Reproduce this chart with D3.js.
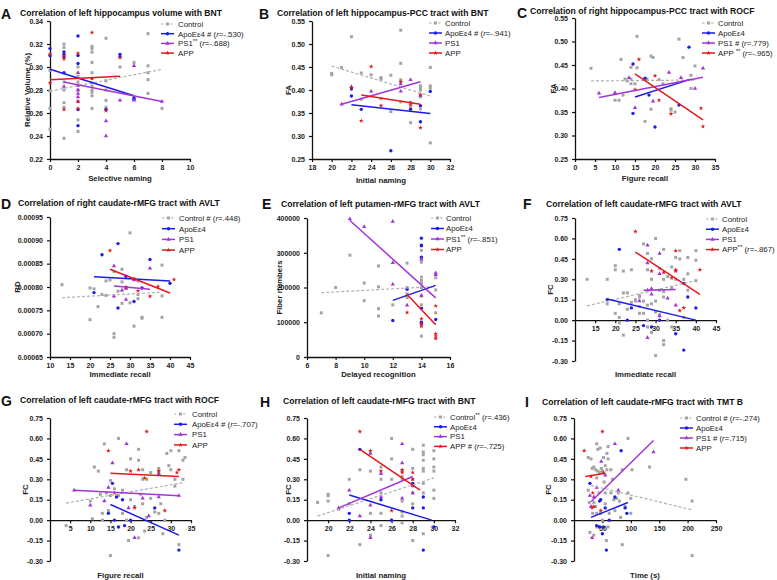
<!DOCTYPE html>
<html><head><meta charset="utf-8">
<script src="https://cdn.jsdelivr.net/npm/d3@7"></script>
<style>body{margin:0;background:#fff} svg{display:block} text{font-family:"Liberation Sans",Arial,sans-serif}</style>
</head><body><svg id="c" width="777" height="580"></svg>
<script>
// ---------------- DATA ----------------
const groups = ["Control", "ApoEε4", "PS1", "APP"];

// Panel A
const A_title = "Correlation of left hippocampus volume with BNT";
const A_xlabel = "Selective naming", A_ylabel = "Relative Volume (%)";
const A_xticks = [0,2,4,6,8,10], A_yticks = [0.22,0.24,0.26,0.28,0.30,0.32,0.34];
const A_legend = ["Control","ApoEε4 # (r=-.530)","PS1** (r=-.688)","APP"];
const A_ctrl = [[0,0.297],[0,0.279],[0,0.264],[0,0.246],[1,0.320],[1,0.317],[1,0.287],[1,0.280],[1,0.269],[1,0.265],[1,0.238],[2,0.300],[2,0.292],[2,0.287],[2,0.280],[2,0.254],[2,0.244],[3,0.318],[3,0.316],[3,0.313],[3,0.304],[3,0.295],[3,0.290],[3,0.286],[3,0.283],[3,0.280],[3,0.278],[3,0.275],[3,0.264],[4,0.325],[4,0.288],[4,0.280],[4,0.271],[4,0.265],[5,0.300],[6,0.304],[7,0.329],[7,0.301],[7,0.295],[7,0.289],[7,0.277],[8,0.264]];
const A_apoe = [[0,0.316],[0,0.310],[1,0.313],[1,0.311],[1,0.309],[1,0.295],[2,0.327],[2,0.310],[2,0.303],[2,0.263],[2,0.249],[4,0.263],[5,0.311],[5,0.309],[6,0.273],[6,0.272]];
const A_ps1 = [[1,0.283],[2,0.295],[2,0.284],[2,0.280],[2,0.277],[2,0.274],[2,0.270],[4,0.253],[4,0.240],[5,0.271],[6,0.301],[6,0.271],[8,0.270]];
const A_app = [[0,0.311],[0,0.286],[1,0.310],[1,0.307],[1,0.263],[2,0.312],[2,0.270],[2,0.264],[3,0.330],[3,0.290],[4,0.262],[5,0.308]];
const A_fits = [[0,0.279,8,0.298],[0,0.298,6,0.275],[1,0.287,8,0.270],[0,0.289,5,0.292]];

// Panel B
const B_title = "Correlation of left hippocampus-PCC tract with BNT";
const B_xlabel = "Initial naming", B_ylabel = "FA";
const B_xticks = [18,20,22,24,26,28,30,32], B_yticks = [0.25,0.30,0.35,0.40,0.45,0.50,0.55];
const B_legend = ["Control","ApoEε4 # (r=-.941)","PS1","APP"];
const B_ctrl = [[20,0.436],[20,0.433],[21,0.449],[22,0.516],[23,0.437],[23,0.380],[24,0.433],[25,0.427],[25,0.424],[25,0.381],[26,0.432],[26,0.353],[27,0.530],[27,0.458],[27,0.422],[27,0.420],[27,0.374],[28,0.329],[28,0.360],[28,0.373],[29,0.409],[29,0.405],[29,0.400],[29,0.385],[29,0.359],[30,0.449],[30,0.409],[30,0.404],[30,0.285]];
const B_apoe = [[22,0.402],[22,0.387],[23,0.358],[26,0.268],[28,0.358],[29,0.366],[29,0.331],[30,0.397]];
const B_ps1 = [[21,0.369],[22,0.407],[24,0.397],[27,0.413],[27,0.397],[28,0.422],[29,0.388]];
const B_app = [[22,0.405],[23,0.333],[24,0.451],[25,0.366],[27,0.418],[28,0.372],[28,0.367],[29,0.390],[29,0.318]];
const B_fits = [[20,0.452,30,0.387],[22,0.368,30,0.349],[21,0.369,29,0.418],[23,0.389,29,0.369]];

// Panel C
const C_title = "Correlation of right hippocampus-PCC tract with ROCF";
const C_xlabel = "Figure recall", C_ylabel = "FA";
const C_xticks = [0,5,10,15,20,25,30,35], C_yticks = [0.25,0.30,0.35,0.40,0.45,0.50,0.55];
const C_legend = ["Control","ApoEε4","PS1 # (r=.779)","APP ** (r=-.965)"];
const C_ctrl = [[4,0.443],[10,0.375],[11,0.375],[11.5,0.462],[12,0.386],[12.5,0.420],[13,0.416],[14,0.445],[14,0.410],[14,0.420],[15,0.410],[15.5,0.511],[15.5,0.444],[17.5,0.330],[18,0.420],[19,0.356],[19,0.469],[19.5,0.466],[21,0.419],[22,0.410],[24,0.357],[24,0.354],[25,0.350],[26,0.505],[27,0.466],[29,0.428],[29,0.400],[30,0.448]];
const C_apoe = [[14.5,0.452],[14.5,0.347],[17.5,0.422],[18.5,0.386],[20,0.318],[26,0.365],[28.5,0.488]];
const C_ps1 = [[6,0.390],[10,0.391],[13.5,0.423],[15,0.359],[19.5,0.373],[23.5,0.434],[26.5,0.423],[30,0.400],[32,0.443]];
const C_app = [[15,0.398],[16,0.462],[20,0.427],[21,0.375],[24,0.346],[31.5,0.358],[32,0.319]];
const C_fits = [[4,0.416,30,0.418],[15,0.382,29,0.420],[6,0.381,32,0.424],[15,0.431,32,0.333]];

// Panel D
const D_title = "Correlation of right caudate-rMFG tract with AVLT";
const D_xlabel = "Immediate recall", D_ylabel = "RD";
const D_xticks = [10,15,20,25,30,35,40,45], D_yticks = [0.00065,0.00070,0.00075,0.00080,0.00085,0.00090,0.00095];
const D_legend = ["Control # (r=.448)","ApoEε4","PS1","APP"];
const D_ctrl = [[13,0.000805],[20,0.000798],[20,0.000730],[21,0.000796],[22,0.000758],[23,0.000784],[24,0.000813],[24,0.000782],[25,0.000815],[26,0.000833],[26,0.000700],[26,0.000692],[27,0.000791],[28,0.000838],[28,0.000811],[28,0.000765],[29,0.000798],[30,0.000916],[30,0.000766],[31,0.000716],[32,0.000813],[32,0.000784],[32,0.000775],[33,0.000735],[33,0.000733],[38,0.000847],[38,0.000781],[38,0.000735]];
const D_apoe = [[21,0.000788],[23,0.000869],[27,0.000893],[27,0.000755],[29,0.000823],[31,0.000769],[33,0.000798],[35,0.000859],[40,0.000808]];
const D_ps1 = [[26,0.000845],[26,0.000780],[28,0.000793],[29,0.000773],[29,0.000797],[31,0.000815],[35,0.000840]];
const D_app = [[25,0.000878],[29,0.000800],[31,0.000818],[32,0.000792],[35,0.000780],[37,0.000801],[41,0.000816]];
const D_fits = [[13,0.000777,38,0.000789],[21,0.000822,40,0.000813],[26,0.000802,35,0.000795],[25,0.000838,40,0.000787]];

// Panel E
const E_title = "Correlation of left putamen-rMFG tract with AVLT";
const E_xlabel = "Delayed recognition", E_ylabel = "Fiber numbers";
const E_xticks = [6,8,10,12,14,16], E_yticks = [0,100000,200000,300000,400000];
const E_legend = ["Control","ApoEε4","PS1** (r=-.851)","APP"];
const E_ctrl = [[7,127000],[8,200000],[9,293000],[10,213000],[10,162000],[11,262000],[11,202000],[11,139000],[11,118000],[12,150000],[13,270000],[13,200000],[13,182000],[13,175000],[13,171000],[14,307000],[14,278000],[14,273000],[14,230000],[14,220000],[14,213000],[14,200000],[14,175000],[14,150000],[14,60000],[15,228000],[15,193000],[15,127000]];
const E_apoe = [[12,105000],[13,195000],[14,342000],[14,322000],[14,320000],[14,287000],[14,140000],[14,100000],[14,95000],[15,108000]];
const E_ps1 = [[9,397000],[10,375000],[12,390000],[12,271000],[12,209000],[13,149000],[14,282000],[14,177000],[15,242000],[15,237000]];
const E_app = [[13,128000],[14,110000],[14,96000],[14,88000],[15,147000],[15,67000],[15,60000],[15,53000]];
const E_fits = [[7,185000,15,203000],[12,163000,15,206000],[9,393000,15,170000],[13,180000,15,93000]];

// Panel F
const F_title = "Correlation of left caudate-rMFG tract with AVLT";
const F_xlabel = "Immediate recall", F_ylabel = "FC";
const F_xticks = [15,20,25,30,35,40,45], F_yticks = [-0.30,-0.15,0,0.15,0.30,0.45,0.60,0.75];
const F_legend = ["Control","ApoEε4","PS1","APP** (r=-.867)"];
const F_ctrl = [[13,0.30],[18,0.30],[18,0.12],[20,0.40],[20,0.37],[20,0.05],[21,0.12],[21,0.02],[21,-0.02],[22,0.36],[22,0.20],[22,-0.11],[23,0.20],[23,0.08],[24,0.37],[24,0.13],[25,0.15],[25,0.14],[26,0.18],[26,0.17],[26,0.10],[26,0.05],[27,0.56],[27,0.14],[27,0.05],[28,0.49],[28,0.37],[28,0.11],[28,0.00],[28,-0.05],[29,0.45],[29,0.30],[29,0.12],[29,-0.09],[30,0.60],[30,0.14],[30,0.06],[30,-0.26],[31,0.38],[31,0.22],[31,0.04],[32,0.52],[32,0.30],[32,0.21],[32,0.17],[32,-0.15],[32,-0.18],[33,0.32],[33,0.00],[34,0.39],[34,0.24],[34,-0.05],[35,0.46],[35,0.30],[36,0.51],[36,0.45],[37,0.30],[37,0.02],[38,0.46],[38,0.34],[38,0.22],[40,0.51],[40,0.44],[40,0.29]];
const F_apoe = [[18,0.15],[21,0.52],[23,0.00],[24,0.09],[27,-0.04],[29,-0.05],[31,0.00],[35,-0.10],[37,0.27],[37,-0.22],[38,0.17],[40,0.09]];
const F_ps1 = [[26,0.14],[28,0.55],[28,0.42],[28,0.22],[28,-0.13],[29,0.23],[29,0.19],[31,0.49],[31,0.34],[31,0.03],[33,0.16],[35,0.11]];
const F_app = [[25,0.65],[29,0.36],[32,0.35],[34,0.31],[35,0.51],[35,0.37],[35,0.36],[36,0.07],[37,0.09],[41,0.37]];
const F_fits = [[13,0.105,40,0.29],[18,0.155,40,0.00],[27,0.22,35,0.225],[25,0.50,41,0.19]];

// Panel G
const G_title = "Correlation of left caudate-rMFG tract with ROCF";
const G_xlabel = "Figure recall", G_ylabel = "FC";
const G_xticks = [5,10,15,20,25,30,35], G_yticks = [-0.30,-0.15,0,0.15,0.30,0.45,0.60,0.75];
const G_legend = ["Control","ApoEε4 # (r=-.707)","PS1","APP"];
const G_ctrl = [[4,-0.04],[10,0.14],[10.5,0.01],[11,0.39],[12,0.36],[12.5,0.19],[13,0.05],[13.5,0.56],[13,0.00],[14,0.20],[14.5,0.07],[15,0.29],[15,0.18],[15,-0.26],[16,0.23],[17,0.60],[17,0.18],[18,0.22],[18,0.05],[19,0.37],[19,0.00],[19.5,-0.15],[20,0.45],[20,0.15],[21,0.10],[22,0.52],[22,0.44],[22,-0.13],[22.5,0.19],[23,0.37],[23,0.30],[23,0.12],[23.5,-0.08],[24,0.30],[24,0.02],[25,0.16],[25,0.35],[26,0.06],[27,0.38],[27,0.35],[27,0.05],[27.5,0.12],[28,-0.10],[28.5,0.00],[29,0.49],[29.5,0.40],[30,0.51],[30,0.37],[31,0.25],[31,0.30],[32,0.51],[32,-0.18],[33,0.44],[33.5,0.46],[33,0.30]];
const G_apoe = [[14.5,0.05],[15.5,0.27],[16.5,0.17],[16,0.00],[17,-0.05],[18,0.15],[18.5,-0.04],[20,0.00],[26,0.09],[32,-0.22]];
const G_ps1 = [[6,0.22],[10,0.11],[13.5,0.14],[14.5,0.24],[15.5,0.42],[19,0.56],[19.5,0.09],[21,-0.13],[23,0.16],[24.5,0.03],[27,0.34],[27,0.17],[32,0.18]];
const G_app = [[14.5,0.51],[16,0.20],[20,0.36],[21,0.09],[22,0.37],[23.5,0.31],[24,0.65],[27,0.36],[28.5,0.07],[31.5,0.35],[32,0.37]];
const G_fits = [[4,0.125,33,0.275],[15,0.115,32,-0.11],[6,0.22,32,0.18],[15,0.345,32,0.32]];

// Panel H
const H_title = "Correlation of left caudate-rMFG tract with BNT";
const H_xlabel = "Initial naming", H_ylabel = "FC";
const H_xticks = [20,22,24,26,28,30,32], H_yticks = [-0.30,-0.15,0,0.15,0.30,0.45,0.60,0.75];
const H_legend = ["Control** (r=.436)","ApoEε4","PS1","APP # (r=-.725)"];
const H_ctrl = [[19,0.13],[20,0.19],[20,0.18],[20,0.14],[20,-0.26],[21,0.08],[22,0.30],[22,0.12],[23,0.37],[23,-0.18],[24,0.36],[24,0.05],[24,-0.11],[25,0.39],[25,0.30],[25,0.20],[25,0.05],[25,-0.04],[26,0.60],[26,0.45],[26,0.30],[26,0.00],[27,0.36],[27,0.32],[27,0.30],[27,0.14],[27,0.06],[27,0.03],[27,-0.02],[28,0.52],[28,0.38],[28,0.30],[28,0.26],[28,0.20],[28,0.12],[28,-0.15],[29,0.55],[29,0.50],[29,0.48],[29,0.44],[29,0.38],[29,0.36],[29,0.27],[29,0.20],[29,-0.10],[30,0.51],[30,0.45],[30,0.39],[30,0.36],[30,0.22],[30,0.16],[30,-0.05]];
const H_apoe = [[22,0.05],[22,0.00],[23,0.52],[25,0.15],[26,0.00],[28,0.27],[28,0.09],[29,0.17],[29,0.09],[29,-0.22],[30,-0.05]];
const H_ps1 = [[21,0.09],[22,0.22],[23,0.03],[24,0.49],[24,0.11],[24,-0.13],[25,0.34],[25,0.17],[27,0.56],[27,0.42],[27,0.16],[28,0.25],[28,0.20]];
const H_app = [[23,0.65],[24,0.51],[25,0.36],[26,0.07],[27,0.37],[27,0.35],[28,0.35],[28,0.30]];
const H_fits = [[19,0.03,30,0.31],[22,0.185,29.8,0.0],[21,0.09,28,0.32],[23,0.52,28.7,0.22]];

// Panel I
const I_title = "Correlation of left caudate-rMFG tract with TMT B";
const I_xlabel = "Time (s)", I_ylabel = "FC";
const I_xticks = [50,100,150,200,250], I_yticks = [-0.30,-0.15,0,0.15,0.30,0.45,0.60,0.75];
const I_legend = ["Control # (r=-.274)","ApoEε4","PS1 # (r=.715)","APP"];
const I_ctrl = [[25,0.46],[25,0.22],[27,0.13],[28,-0.09],[30,0.45],[32,0.38],[33,0.05],[35,0.39],[35,0.13],[35,-0.11],[38,0.37],[38,0.10],[40,0.56],[40,0.31],[40,0.05],[40,-0.05],[42,0.52],[42,0.36],[44,0.20],[45,0.35],[45,-0.05],[46,0.53],[47,0.05],[48,0.38],[50,0.36],[50,0.00],[52,0.46],[53,0.28],[55,0.40],[55,0.20],[55,0.12],[57,-0.15],[58,0.49],[58,0.37],[60,0.54],[60,0.45],[60,-0.05],[62,0.05],[65,0.20],[65,0.37],[68,0.30],[70,0.15],[72,0.07],[75,0.16],[78,0.20],[80,0.14],[82,0.02],[85,0.37],[85,-0.18],[90,0.10],[95,0.60],[95,0.20],[100,0.16],[100,0.05],[102,0.37],[133,0.39],[197,0.30],[208,0.14],[208,-0.26]];
const I_apoe = [[28,0.27],[40,-0.04],[45,-0.05],[45,0.14],[47,0.15],[50,-0.10],[52,-0.05],[55,0.09],[57,-0.22],[62,0.00],[72,0.17],[83,0.51],[90,0.09],[93,0.05]];
const I_ps1 = [[28,0.18],[30,0.10],[32,-0.13],[35,0.17],[40,0.24],[48,0.43],[55,0.33],[72,0.56],[78,0.22],[140,0.50]];
const I_app = [[18,0.51],[30,0.32],[32,0.09],[33,0.20],[35,0.10],[47,0.07],[50,0.65],[52,0.35]];
const I_fits = [[30,0.255,208,0.075],[30,0.02,95,0.13],[30,0.135,140,0.585],[20,0.32,55,0.345]];

// ---------------- LAYOUT ----------------
const COLORS = ["#a4a4a4", "#1c1ce6", "#a335d8", "#e3191c"];
const SYMS = [d3.symbolSquare, d3.symbolCircle, d3.symbolTriangle, d3.symbolStar];
const SYMSIZE = [9, 9, 8, 7];

const fmt2 = v => d3.format(".2f")(v).replace("−","-");
const fmt5 = v => d3.format(".5f")(v);
const fmtD = v => d3.format("d")(v);

const panels = [
 {L:"A", title:A_title, xl:A_xlabel, yl:A_ylabel, xd:[0,10], yd:[0.22,0.34], xt:A_xticks, yt:A_yticks, fy:fmt2, data:[A_ctrl,A_apoe,A_ps1,A_app], fits:A_fits, leg:A_legend,
  xr:[50,190], yr:[159,21], letter:[1,19], tp:[20,16], ylx:27, xly:181, lg:{lx:161, tx:178, y0:24, dy:9.7}},
 {L:"B", title:B_title, xl:B_xlabel, yl:B_ylabel, xd:[18,32], yd:[0.25,0.55], xt:B_xticks, yt:B_yticks, fy:fmt2, data:[B_ctrl,B_apoe,B_ps1,B_app], fits:B_fits, leg:B_legend,
  xr:[312,450], yr:[159,21], letter:[259,19], tp:[277,16], ylx:288, xly:183, lg:{lx:429, tx:445, y0:23, dy:10}},
 {L:"C", title:C_title, xl:C_xlabel, yl:C_ylabel, xd:[0,35], yd:[0.25,0.55], xt:C_xticks, yt:C_yticks, fy:fmt2, data:[C_ctrl,C_apoe,C_ps1,C_app], fits:C_fits, leg:C_legend,
  xr:[575,715], yr:[159,18], letter:[517,18], tp:[530,13.5], ylx:553, xly:181, lg:{lx:702, tx:718, y0:23, dy:10}},
 {L:"D", title:D_title, xl:D_xlabel, yl:D_ylabel, xd:[10,45], yd:[0.00065,0.00095], xt:D_xticks, yt:D_yticks, fy:fmt5, data:[D_ctrl,D_apoe,D_ps1,D_app], fits:D_fits, leg:D_legend,
  xr:[50,190], yr:[357,217], letter:[1,209], tp:[18,206], ylx:17, xly:377, lg:{lx:162, tx:179, y0:218, dy:10.7}},
 {L:"E", title:E_title, xl:E_xlabel, yl:E_ylabel, xd:[6,16], yd:[0,400000], xt:E_xticks, yt:E_yticks, fy:fmtD, data:[E_ctrl,E_apoe,E_ps1,E_app], fits:E_fits, leg:E_legend,
  xr:[307,450], yr:[357,218], letter:[262,209], tp:[281,207], ylx:279, xly:377, lg:{lx:431, tx:446, y0:218, dy:10.5}},
 {L:"F", title:F_title, xl:F_xlabel, yl:F_ylabel, xd:[10,45], yd:[-0.30,0.75], xt:F_xticks, yt:F_yticks, fy:fmt2, data:[F_ctrl,F_apoe,F_ps1,F_app], fits:F_fits, leg:F_legend,
  xr:[575,716], yr:[361,218], letter:[523,209], tp:[546,207], ylx:550, xly:377, lg:{lx:706, tx:722, y0:219, dy:10.2}, zeroAxis:true},
 {L:"G", title:G_title, xl:G_xlabel, yl:G_ylabel, xd:[0,35], yd:[-0.30,0.75], xt:G_xticks, yt:G_yticks, fy:fmt2, data:[G_ctrl,G_apoe,G_ps1,G_app], fits:G_fits, leg:G_legend,
  xr:[50,191], yr:[561,418], letter:[1,406], tp:[20,403], ylx:25, xly:578, lg:{lx:174, tx:192, y0:414, dy:10.3}, zeroAxis:true},
 {L:"H", title:H_title, xl:H_xlabel, yl:H_ylabel, xd:[18,32], yd:[-0.30,0.75], xt:H_xticks, yt:H_yticks, fy:fmt2, data:[H_ctrl,H_apoe,H_ps1,H_app], fits:H_fits, leg:H_legend,
  xr:[307,455], yr:[561,418], letter:[260,407], tp:[283,404], ylx:288, xly:578, lg:{lx:434, tx:450, y0:417, dy:9.8}, zeroAxis:true},
 {L:"I", title:I_title, xl:I_xlabel, yl:I_ylabel, xd:[0,250], yd:[-0.30,0.75], xt:I_xticks, yt:I_yticks, fy:fmt2, data:[I_ctrl,I_apoe,I_ps1,I_app], fits:I_fits, leg:I_legend,
  xr:[574,716], yr:[561,418], letter:[525,407], tp:[542,405], ylx:548, xly:578, lg:{lx:680, tx:696, y0:418, dy:10}, zeroAxis:true}
];

const svg = d3.select("#c");

function richText(sel, str) {
  const parts = str.split(/(\*\*|r(?==))/).filter(s => s.length);
  let shifted = false;
  parts.forEach(p => {
    const t = sel.append("tspan").text(p);
    if (p === "**") { t.attr("dy", -3).attr("font-size", "6px"); shifted = true; }
    else {
      if (shifted) { t.attr("dy", 3); shifted = false; }
      if (p === "r") t.attr("font-style", "italic");
    }
  });
}

panels.forEach(p => {
  const g = svg.append("g");
  const x = d3.scaleLinear().domain(p.xd).range(p.xr);
  const y = d3.scaleLinear().domain(p.yd).range(p.yr);

  // axes
  const xAxisY = p.zeroAxis ? y(0) : p.yr[0];
  const xa = g.append("g").attr("transform", `translate(0,${xAxisY})`)
    .call(d3.axisBottom(x).tickValues(p.xt).tickSize(3).tickSizeOuter(0).tickFormat(d => d3.format("d")(d)));
  const ya = g.append("g").attr("transform", `translate(${p.xr[0]},0)`)
    .call(d3.axisLeft(y).tickValues(p.yt).tickSize(3).tickSizeOuter(0).tickFormat(p.fy));
  [xa, ya].forEach(a => {
    a.select(".domain").attr("stroke", "#111").attr("stroke-width", 1.3);
    a.selectAll(".tick line").attr("stroke", "#111").attr("stroke-width", 1.2);
    a.selectAll(".tick text").attr("font-size", "7px").attr("font-weight", "bold").attr("fill", "#222")
      .attr("font-family", "'Liberation Sans',Arial,sans-serif");
  });
  ya.selectAll(".tick text").attr("dx", "-1");

  // points
  p.data.forEach((pts, gi) => {
    g.append("g").selectAll("path").data(pts).join("path")
      .attr("transform", d => `translate(${x(d[0])},${y(d[1])})`)
      .attr("d", d3.symbol().type(SYMS[gi]).size(SYMSIZE[gi]))
      .attr("fill", COLORS[gi]);
  });
  // fit lines
  p.fits.forEach((f, gi) => {
    g.append("line")
      .attr("x1", x(f[0])).attr("y1", y(f[1])).attr("x2", x(f[2])).attr("y2", y(f[3]))
      .attr("stroke", gi === 0 ? "#b0b0b0" : COLORS[gi]).attr("stroke-width", gi === 0 ? 1.2 : 1.5)
      .attr("stroke-dasharray", gi === 0 ? "3,2" : null);
  });

  // legend
  p.leg.forEach((txt, gi) => {
    const ly = p.lg.y0 + gi * p.lg.dy;
    g.append("line").attr("x1", p.lg.lx).attr("x2", p.lg.lx + 13).attr("y1", ly).attr("y2", ly)
      .attr("stroke", gi === 0 ? "#b0b0b0" : COLORS[gi]).attr("stroke-width", gi === 0 ? 1.2 : 1.5)
      .attr("stroke-dasharray", gi === 0 ? "2.5,2" : null);
    g.append("path").attr("transform", `translate(${p.lg.lx + 6.5},${ly})`)
      .attr("d", d3.symbol().type(SYMS[gi]).size(SYMSIZE[gi])).attr("fill", COLORS[gi]);
    const t = g.append("text").attr("x", p.lg.tx).attr("y", ly + 2.8)
      .attr("font-size", "7.8px").attr("fill", "#222");
    richText(t, txt);
  });

  // titles
  g.append("text").attr("x", p.letter[0]).attr("y", p.letter[1]).text(p.L)
    .attr("font-size", "14px").attr("font-weight", "bold").attr("fill", "#111");
  g.append("text").attr("x", p.tp[0]).attr("y", p.tp[1]).text(p.title)
    .attr("font-size", "8.6px").attr("font-weight", "bold").attr("fill", "#111");
  g.append("text").attr("x", (p.xr[0] + p.xr[1]) / 2).attr("y", p.xly).text(p.xl)
    .attr("text-anchor", "middle").attr("font-size", "7.8px").attr("font-weight", "bold").attr("fill", "#222");
  g.append("text").attr("transform", `translate(${p.ylx + 2.5},${(p.yr[0] + p.yr[1]) / 2}) rotate(-90)`)
    .text(p.yl).attr("text-anchor", "middle").attr("font-size", "7.8px").attr("font-weight", "bold").attr("fill", "#222");
});
</script></body></html>
